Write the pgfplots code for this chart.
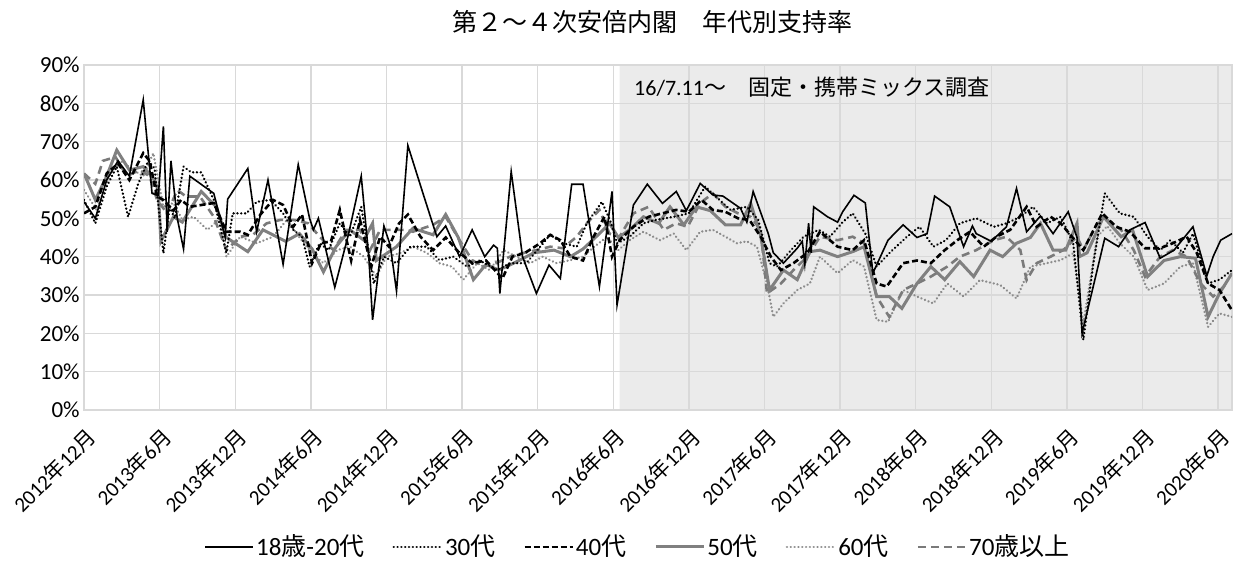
\documentclass[border=0pt]{standalone}
\usepackage{fontspec}
\setmainfont{Carlito}
\newfontfamily\jp{Noto Sans CJK JP}
\usepackage{pgfplots}
\pgfplotsset{compat=1.18}
\newcommand{\ym}[2]{#1{\jp 年}#2{\jp 月}}
\definecolor{gline}{HTML}{D9D9D9}
\definecolor{shade}{HTML}{EBEBEB}
\definecolor{gsolid}{HTML}{808080}
\definecolor{gdot}{HTML}{8C8C8C}
\definecolor{gdash}{HTML}{7A7A7A}
\tikzset{
 s1/.style={black, line width=0.8pt},
 s2/.style={black, line width=1.3pt, line cap=round, dash pattern=on 0.01pt off 1.9pt},
 s3/.style={black, line width=1.3pt, dash pattern=on 3pt off 1.5pt},
 s4/.style={gsolid, line width=1.5pt},
 s5/.style={gdot, line width=1.3pt, line cap=round, dash pattern=on 0.01pt off 1.9pt},
 s6/.style={gdash, line width=1.3pt, dash pattern=on 4pt off 2.5pt},
}
\begin{document}
\begin{tikzpicture}
\begin{axis}[
 width=574pt, height=172.5pt, scale only axis, set layers,
 xmin=0, xmax=91.1, ymin=0, ymax=90,
 xtick={0,6,...,90},
 xticklabels={\ym{2012}{12},\ym{2013}{6},\ym{2013}{12},\ym{2014}{6},\ym{2014}{12},\ym{2015}{6},\ym{2015}{12},\ym{2016}{6},\ym{2016}{12},\ym{2017}{6},\ym{2017}{12},\ym{2018}{6},\ym{2018}{12},\ym{2019}{6},\ym{2019}{12},\ym{2020}{6}},
 xticklabel style={xshift=0.5pt, yshift=-8pt, rotate=45, anchor=north east, inner sep=0pt, font=\fontsize{10.5}{12}\selectfont},
 ytick={0,10,...,90},
 yticklabel={\pgfmathprintnumber{\tick}\%},
 /pgf/number format/assume math mode=true,
 yticklabel style={font=\fontsize{11.5}{13}\selectfont, inner sep=1pt, xshift=-1pt},
 major tick length=0pt,
 grid=major, grid style={draw=gline, line width=0.7pt},
 axis line style={draw=gline, line width=0.7pt},
 title={\jp 第２～４次安倍内閣　年代別支持率},
 title style={at={(0.495,1)}, anchor=center, yshift=15.5pt, font=\fontsize{12.5}{14}\selectfont},
 legend style={at={(0.4826,-0.397)}, anchor=center, draw=none, fill=none,
   legend columns=6, font=\fontsize{12.5}{14}\selectfont,
   /tikz/every even column/.append style={column sep=13pt},
   nodes={inner sep=1pt}},
 legend image code/.code={\draw[#1] (0pt,0pt) -- (24pt,0pt);},
]
\addplot[on layer=axis background, fill=shade, draw=none, forget plot] coordinates {(42.5,0)(42.5,90)(91.1,90)(91.1,0)} \closedcycle;

\addlegendimage{s1}\addlegendentry{18{\jp 歳}-20{\jp 代}}
\addlegendimage{s2}\addlegendentry{30{\jp 代}}
\addlegendimage{s3}\addlegendentry{40{\jp 代}}
\addlegendimage{s4}\addlegendentry{50{\jp 代}}
\addlegendimage{s5}\addlegendentry{60{\jp 代}}
\addlegendimage{s6}\addlegendentry{70{\jp 歳以上}}

% 60s gray dotted
\addplot[s5, forget plot] coordinates {(0,57.4)(1.0,52.2)(2.0,61)(2.9,65)(3.9,62.6)(4.7,61)(5.5,67)(6.3,53)(7.1,54)(7.8,49.6)(8.7,50.4)(9.8,47)(10.8,50)(11.3,40)(12.4,45.2)(13.7,43.5)(15.0,45.2)(16.1,49.6)(17.1,45)(18.1,40.9)(19.0,38.3)(20.1,41.7)(21.1,42.6)(22.2,40)(23.2,34.8)(24.0,40)(25.1,40.9)(26.1,42.6)(27.2,41)(28.2,38.3)(29.2,37.4)(30.1,34)(31.2,38.3)(32.2,36.5)(33.3,41.7)(34.3,40)(35.4,38.3)(36.4,40)(37.5,38.3)(38.6,39.1)(39.6,40)(40.5,42.6)(41.5,45.2)(42.4,41.7)(43.3,44.3)(44.4,46.5)(45.7,44.3)(46.8,46)(47.8,41.7)(48.9,46.5)(49.9,47)(50.9,45.2)(51.8,43.5)(52.6,44)(53.4,42.6)(54.2,33)(54.7,24.3)(55.5,27.8)(56.6,31.3)(57.6,33)(58.4,40)(59.8,35.7)(61.0,39.1)(61.9,37.4)(62.9,23.5)(63.8,23)(65.0,31.3)(66.1,29.6)(67.4,27.8)(68.5,33)(69.8,29.6)(71.1,33.9)(72.7,32.6)(74.0,29.1)(75.1,37.4)(76.4,38.3)(77.5,39.1)(78.5,40.9)(79.3,22.6)(80.4,45.2)(81.2,48)(82.2,43.5)(83.3,40)(84.4,31.3)(85.7,33)(87.0,37.4)(88.0,38.3)(89.2,21.7)(90.1,25.2)(91.1,24.3)};
% 70+ gray dashed
\addplot[s6, forget plot] coordinates {(0,61.7)(0.9,59)(1.5,65)(2.5,66)(3.4,61)(4.4,62.6)(5.2,61)(5.8,54.8)(6.6,51.3)(7.4,57.4)(8.1,55.7)(9.2,55.7)(10.3,50.4)(11.3,41.7)(12.4,45.2)(13.4,45.7)(14.5,48.7)(15.6,49.6)(16.6,49.6)(17.8,48.7)(18.7,45.2)(19.8,41.7)(20.8,47)(21.9,47)(22.7,41.7)(23.5,47)(24.6,47)(25.6,47)(26.1,46.5)(27.7,48.3)(28.7,50.4)(29.8,44.3)(30.8,39.1)(31.7,37.4)(32.7,38.3)(33.8,40)(34.9,41)(35.9,41.7)(37.0,42.6)(38.0,42.2)(39.1,45.2)(39.9,48.7)(40.9,52.2)(41.7,46)(42.5,45.2)(43.6,51.3)(44.8,53)(46.0,47)(47.0,48.7)(47.9,47.8)(48.9,54)(49.9,56.5)(50.9,53)(51.9,51.3)(52.9,50.4)(53.7,47)(54.2,30.4)(55.3,33)(56.3,36.5)(57.4,40)(58.4,45.2)(59.8,44.3)(61.0,45.2)(61.9,43.5)(62.9,29.6)(63.9,24.3)(65.0,31.3)(66.1,33)(67.2,34.8)(68.5,37.4)(69.5,40)(70.8,41.7)(72.2,44.3)(73.2,45.2)(74.3,41.7)(74.8,33.9)(75.6,38.3)(76.7,40)(77.7,41.7)(78.8,45.2)(79.3,41.7)(80.4,48.7)(81.2,49.6)(82.3,47)(83.3,41.7)(84.2,34.8)(85.4,40)(86.4,41.7)(87.5,40)(88.6,33)(89.6,29.6)(90.7,33)};
% 50s gray solid
\addplot[s4, forget plot] coordinates {(0,61.7)(0.9,54.8)(1.8,61)(2.6,67.8)(3.6,62.6)(4.7,63.5)(5.6,60)(5.9,57)(6.1,44)(7.1,50.4)(7.8,49)(9.3,57)(10.5,53)(11.3,45)(13.0,41.3)(14.2,47)(16.0,44)(17.1,46)(18.1,42)(19.0,36)(20.0,42.6)(21.1,47)(22.2,44.3)(22.9,48.7)(23.2,39)(24.8,42.6)(26.1,47.4)(27.7,45.7)(28.7,51)(29.7,45)(30.9,34)(31.9,38)(32.9,36.5)(34.1,38.3)(35.7,41)(37.3,41.7)(38.6,40)(39.6,42)(40.9,46)(41.7,48.7)(42.4,45)(43.3,47)(44.4,50.4)(45.6,48.7)(46.5,53)(47.6,48.3)(48.6,53)(49.7,52)(50.9,48.3)(52.1,48.3)(52.9,54)(53.7,45.4)(54.4,31.3)(55.5,36.5)(56.6,34)(57.6,41.3)(58.4,41.7)(59.8,40)(61.0,41.3)(61.9,42.6)(62.9,29.6)(63.9,29.6)(64.9,26.5)(66.1,33)(67.2,37.4)(68.3,34)(69.5,38.7)(70.6,34.8)(71.9,41.7)(72.9,40)(74.0,43.5)(75.1,45)(75.9,48.7)(76.9,41.7)(77.9,41.7)(78.8,48.7)(79.0,40)(79.6,41)(80.9,50.4)(82.3,45.2)(83.2,47)(84.4,34.8)(85.7,39)(87.0,40)(88.2,39.6)(89.2,24.3)(90.1,30.4)(91.1,35.7)};
% 40s black dashed
\addplot[s3, forget plot] coordinates {(0,51.3)(0.9,53)(1.8,61.7)(2.7,64.3)(3.6,60)(4.7,67)(5.2,65)(5.8,55.7)(6.3,54.8)(7.1,52)(7.7,54.8)(8.4,53)(10.3,54)(11.3,46.5)(12.4,46.5)(13.0,45.7)(14.0,51)(15.0,54.8)(15.8,53.5)(16.6,47.8)(17.3,51)(18.1,38.3)(18.8,43.5)(19.6,44)(20.3,52.2)(21.2,39)(21.9,49.6)(22.8,37.4)(23.5,45.2)(24.2,42.6)(25.0,48.7)(25.7,51)(26.7,45.2)(27.7,41.7)(28.7,45)(29.7,41.3)(30.8,38.3)(31.9,39)(33.2,34.3)(34.0,40)(35.0,41)(36.2,43.5)(37.0,45.7)(37.8,44.3)(38.6,40)(39.6,39)(40.4,45)(41.3,50.4)(41.9,40)(42.5,44.3)(43.6,47.8)(44.8,50.4)(45.9,51.3)(47.0,52.2)(48.0,51.7)(49.0,54.8)(49.9,52.2)(50.9,51.7)(51.9,50)(52.8,49.6)(53.7,45.2)(54.5,40)(55.3,36.5)(56.3,38.3)(57.4,41)(58.4,46.5)(59.8,42.6)(61.0,41.7)(61.9,44.3)(62.9,33)(63.7,32.2)(65.0,38.3)(66.1,39)(67.2,38.3)(68.3,41.7)(69.3,44.3)(70.3,46.5)(71.4,42.6)(72.4,45.2)(73.5,47)(74.8,53)(75.6,47.8)(76.7,50.4)(77.5,48.7)(78.4,45.2)(79.3,41.7)(80.8,51.3)(81.9,47.8)(83.0,46.5)(84.2,42.2)(85.4,42.2)(86.4,43.5)(87.5,45.2)(88.3,41)(89.2,33)(90.1,31.3)(91.1,26)};
% 30s black dotted
\addplot[s2, forget plot] coordinates {(0,54.8)(0.9,48.7)(1.8,58.3)(2.6,63.5)(3.5,50.4)(4.3,59)(5.1,65)(5.6,63)(6.3,40.9)(6.8,53)(7.2,50)(7.9,63.5)(8.5,62)(9.3,62)(10.3,54.8)(11.3,41)(11.8,51.3)(12.9,51.3)(13.7,54.3)(14.8,54.8)(15.8,51.3)(16.6,47)(17.3,45.2)(17.9,37.4)(18.7,43.5)(19.4,41.7)(20.3,48.7)(21.1,45.2)(22.0,53)(23.0,33)(23.8,40)(24.8,38.3)(25.9,42.6)(27.2,42.6)(28.2,39.1)(29.3,40)(30.4,37.4)(31.4,39)(32.8,36.5)(33.8,38.3)(35.1,38.3)(36.2,42.6)(37.0,45.7)(38.0,43.5)(39.1,42.6)(39.9,48.7)(41.1,54.3)(41.8,49)(42.3,43.5)(43.3,45.2)(44.4,48.7)(45.4,49.6)(46.8,50.4)(48.0,51.3)(49.3,58.3)(50.3,55.2)(51.3,52.2)(52.6,53)(53.5,49.6)(54.4,38.3)(55.0,37.4)(56.1,41.7)(57.1,45.2)(58.3,47)(59.2,45.2)(60.2,49)(61.0,51.3)(62.0,46)(62.9,37.4)(63.9,40.9)(65.3,45.2)(66.3,47.8)(67.4,42.6)(68.4,44.3)(69.5,48.7)(70.8,50)(72.2,47.8)(73.2,48.7)(74.3,50.4)(75.3,53)(76.4,48.7)(77.5,50.4)(78.5,43.5)(79.3,18.3)(80.1,38.3)(81.0,56.5)(82.2,51.3)(83.3,50.4)(84.4,45.2)(85.4,41.7)(86.2,44.3)(87.2,41)(88.0,46)(89.2,33)(90.1,34)(91.1,36.5)};
% 18-20s black solid
\addplot[s1, forget plot] coordinates {(0,54.3)(0.9,50)(1.8,60)(2.7,65)(3.6,61)(4.7,80.9)(5.4,56.5)(5.9,56)(6.3,74)(6.6,46.5)(6.9,65)(7.4,50)(7.9,42)(8.4,61)(10.3,56.5)(11.2,45)(11.4,55)(13.0,63)(13.7,46.5)(14.6,60)(15.8,38)(17.0,64)(17.9,50)(18.2,47)(18.6,50)(19.9,32)(21.0,46)(22.0,61)(22.6,40)(22.9,23.5)(23.8,48)(24.3,43)(24.8,31)(25.7,69)(26.9,56.5)(28.0,45.2)(28.7,48)(29.8,40)(30.8,47)(31.8,40)(32.5,43)(32.8,42.2)(33.0,30.4)(33.9,62.2)(34.8,40)(35.9,30.4)(36.9,37.8)(37.8,34.3)(38.7,58.9)(39.6,58.9)(40.9,32.2)(41.9,57)(42.3,27.4)(43.6,53.5)(44.7,58.9)(45.9,53.9)(47.0,57)(47.8,52)(48.9,59.1)(49.9,56.1)(50.7,55.8)(52.1,52.6)(52.6,49)(53.1,57)(54.3,46)(54.7,41)(55.5,38.3)(56.6,42.2)(57.0,44)(57.2,38)(57.5,48.7)(57.7,41)(57.9,53)(59.0,50.4)(59.8,49)(60.2,51.7)(61.1,56)(62.0,54)(62.6,35.7)(63.8,44.3)(65.0,48.3)(66.1,45)(66.9,46)(67.5,55.8)(68.7,53)(69.8,42.6)(70.5,48)(70.8,46)(72.0,44)(73.2,47.8)(74.0,57.8)(74.8,46.5)(75.9,50.6)(76.9,46)(78.1,51.7)(78.8,45)(79.2,20)(81.0,44.8)(82.1,42.6)(83.0,47)(84.2,48.9)(85.4,39.6)(86.5,41.7)(88.0,47.8)(89.1,35)(89.6,40)(90.2,44.3)(91.1,46)};

\node[anchor=west, font=\fontsize{11}{13}\selectfont] at (axis cs:43.1,84.1) {16/7.11{\jp ～　固定・携帯ミックス調査}};
\end{axis}
\pgfresetboundingbox
\path (-42pt,-78pt) rectangle (578pt,205pt);
\end{tikzpicture}
\end{document}
